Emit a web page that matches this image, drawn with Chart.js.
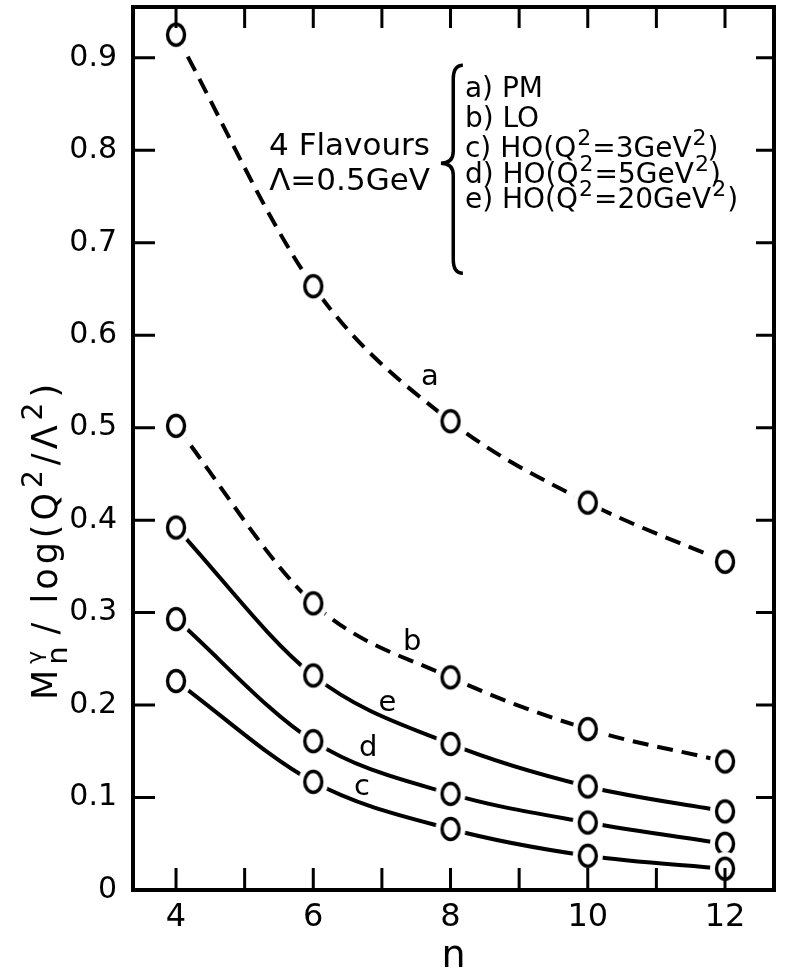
<!DOCTYPE html>
<html>
<head>
<meta charset="utf-8">
<script src="https://cdn.jsdelivr.net/npm/chart.js@4.4.1/dist/chart.umd.min.js"></script>
<style>
  html, body { margin: 0; padding: 0; background: #fff; }
  #wrap { width: 788px; height: 975px; }
</style>
</head>
<body>
<div id="wrap"><canvas id="chart" width="788" height="975"></canvas></div>
<script>
// values
const nValues   = [4, 6, 8, 10, 12];
const pmValues  = [0.925, 0.653, 0.507, 0.419, 0.355];   // a) PM
const loValues  = [0.502, 0.310, 0.230, 0.174, 0.139];   // b) LO
const ho3Values = [0.226, 0.117, 0.066, 0.037, 0.023];   // c) HO Q2=3
const ho5Values = [0.293, 0.161, 0.104, 0.073, 0.050];   // d) HO Q2=5
const ho20Values = [0.392, 0.232, 0.158, 0.112, 0.085];  // e) HO Q2=20
const curveTags = ['a', 'b', 'c', 'd', 'e'];
const legendLines = ['a) PM', 'b) LO', 'c) HO(Q^2=3GeV^2)', 'd) HO(Q^2=5GeV^2)', 'e) HO(Q^2=20GeV^2)'];
const headerLines = ['4 Flavours', 'Λ=0.5GeV'];
const yTicksFormat = v => (Math.abs(v) < 1e-9 ? '0' : v.toFixed(1));

const FONT = '"DejaVu Sans"';
Chart.defaults.font.family = FONT;
Chart.defaults.color = '#000';

// hollow circle with a white halo so the curve stops short of the marker
function makeMarker() {
    const c = document.createElement('canvas');
    c.width = 34; c.height = 38;
    const g = c.getContext('2d');
    g.fillStyle = '#fff';
    g.beginPath(); g.ellipse(17, 19, 15, 17, 0, 0, Math.PI * 2); g.fill();
    g.strokeStyle = '#000'; g.lineWidth = 3.4;
    g.beginPath(); g.ellipse(17, 19, 8.5, 10.5, 0, 0, Math.PI * 2); g.stroke();
    return c;
}
const marker = makeMarker();

function curve(label, values, dashed) {
    return {
        label,
        data: nValues.map((n, i) => ({ x: n, y: values[i] })),
        borderColor: '#000',
        borderWidth: 4,
        borderDash: dashed ? [16, 9] : [],
        pointStyle: marker,
        pointRadius: 10,
        cubicInterpolationMode: 'monotone',
        fill: false
    };
}

function drawSupText(ctx, str, x, y, size) {
    let cx = x;
    str.split('^').forEach((p, i) => {
        let rest = p;
        if (i > 0) {
            ctx.font = `${Math.round(size * 0.8)}px ${FONT}`;
            ctx.fillText(p[0], cx + 1, y - size * 0.42);
            cx += ctx.measureText(p[0]).width + 2;
            rest = p.slice(1);
        }
        ctx.font = `${size}px ${FONT}`;
        ctx.fillText(rest, cx, y);
        cx += ctx.measureText(rest).width;
    });
    return cx;
}

// annotation anchors, in data units
const notes = {
    tags: { a: [7.70, 0.554], b: [7.44, 0.268], c: [6.71, 0.111], d: [6.80, 0.153], e: [7.08, 0.202] },
    header: { x: 7.70, y: [0.795, 0.757] },
    brace: { hook: 8.18, spine: 8.04, tip: 7.86, top: 0.892, mid: 0.786, bottom: 0.667 },
    legend: { x: 8.21, y: [0.858, 0.825, 0.793, 0.765, 0.738] }
};

const paperFrame = {
    id: 'paperFrame',
    afterDraw(chart) {
        const { ctx, chartArea: a, scales: { x, y } } = chart;
        ctx.save();
        ctx.strokeStyle = '#000';
        ctx.fillStyle = '#000';

        // box and inward ticks
        ctx.lineWidth = 4;
        ctx.strokeRect(a.left, a.top, a.right - a.left, a.bottom - a.top);
        ctx.lineWidth = 3;
        ctx.beginPath();
        x.ticks.forEach(t => {
            const px = x.getPixelForValue(t.value);
            ctx.moveTo(px, a.bottom); ctx.lineTo(px, a.bottom - 22);
            ctx.moveTo(px, a.top); ctx.lineTo(px, a.top + 21);
        });
        y.ticks.forEach(t => {
            if (t.value < 1e-9) return;
            const py = y.getPixelForValue(t.value);
            ctx.moveTo(a.left, py); ctx.lineTo(a.left + 22, py);
            ctx.moveTo(a.right, py); ctx.lineTo(a.right - 18, py);
        });
        ctx.stroke();

        // curve tags
        ctx.font = `29px ${FONT}`;
        ctx.textAlign = 'center';
        ctx.textBaseline = 'middle';
        curveTags.forEach(k => {
            const [vx, vy] = notes.tags[k];
            ctx.fillText(k, x.getPixelForValue(vx), y.getPixelForValue(vy));
        });

        // header
        ctx.textAlign = 'right';
        ctx.textBaseline = 'alphabetic';
        ctx.font = `31px ${FONT}`;
        headerLines.forEach((s, i) => {
            ctx.fillText(s, x.getPixelForValue(notes.header.x), y.getPixelForValue(notes.header.y[i]));
        });

        // brace
        const b = notes.brace;
        const hx = x.getPixelForValue(b.hook), sx = x.getPixelForValue(b.spine), tx = x.getPixelForValue(b.tip);
        const ty = y.getPixelForValue(b.top), my = y.getPixelForValue(b.mid), by = y.getPixelForValue(b.bottom);
        ctx.lineWidth = 3.5;
        ctx.beginPath();
        ctx.moveTo(hx, ty);
        ctx.quadraticCurveTo(sx, ty, sx, ty + 14);
        ctx.lineTo(sx, my - 12);
        ctx.quadraticCurveTo(sx, my, tx, my);
        ctx.quadraticCurveTo(sx, my, sx, my + 12);
        ctx.lineTo(sx, by - 14);
        ctx.quadraticCurveTo(sx, by, hx, by);
        ctx.stroke();

        // legend lines
        ctx.textAlign = 'left';
        legendLines.forEach((s, i) => {
            drawSupText(ctx, s, x.getPixelForValue(notes.legend.x), y.getPixelForValue(notes.legend.y[i]), 28);
        });

        // x title
        ctx.textAlign = 'center';
        ctx.font = `38px ${FONT}`;
        ctx.fillText('n', (a.left + a.right) / 2, 967);

        // y title, rotated
        ctx.translate(57, 700);
        ctx.rotate(-Math.PI / 2);
        ctx.textAlign = 'left';
        ctx.letterSpacing = '4px';
        ctx.font = `35px ${FONT}`;
        ctx.fillText('M', 0, 0);
        let cx = ctx.measureText('M').width + 1;
        ctx.font = `22px ${FONT}`;
        ctx.fillText('γ', cx + 1, -15);
        const gw = ctx.measureText('γ').width;
        ctx.font = `29px ${FONT}`;
        ctx.fillText('n', cx, 10);
        cx += Math.max(gw, ctx.measureText('n').width) + 8;
        drawSupText(ctx, '/ log(Q^2/Λ^2)', cx, 0, 35);
        ctx.restore();
    }
};

new Chart(document.getElementById('chart'), {
    type: 'line',
    data: {
        datasets: [
            curve('a) PM', pmValues, true),
            curve('b) LO', loValues, true),
            curve('c) HO(Q²=3GeV²)', ho3Values, false),
            curve('d) HO(Q²=5GeV²)', ho5Values, false),
            curve('e) HO(Q²=20GeV²)', ho20Values, false)
        ]
    },
    options: {
        responsive: false,
        animation: false,
        layout: { autoPadding: false, padding: { left: 0, right: 14, top: 7, bottom: 0 } },
        plugins: { legend: { display: false }, tooltip: { enabled: false } },
        scales: {
            x: {
                type: 'linear',
                min: 3.373, max: 12.714,
                grid: { display: false },
                border: { display: false },
                ticks: {
                    stepSize: 1, includeBounds: false, autoSkip: false, maxRotation: 0,
                    padding: 0,
                    font: { size: 32 },
                    callback: v => (v % 2 === 0 ? String(v) : '')
                },
                afterFit: s => { s.height = 85; s.paddingLeft = 0; s.paddingRight = 0; }
            },
            y: {
                min: 0, max: 0.955,
                grid: { display: false },
                border: { display: false },
                ticks: {
                    stepSize: 0.1, includeBounds: false, padding: 8,
                    font: { size: 30 },
                    callback: yTicksFormat
                },
                afterFit: s => { s.width = 133; s.paddingTop = 0; s.paddingBottom = 0; }
            }
        }
    },
    plugins: [paperFrame]
});
</script>
</body>
</html>
